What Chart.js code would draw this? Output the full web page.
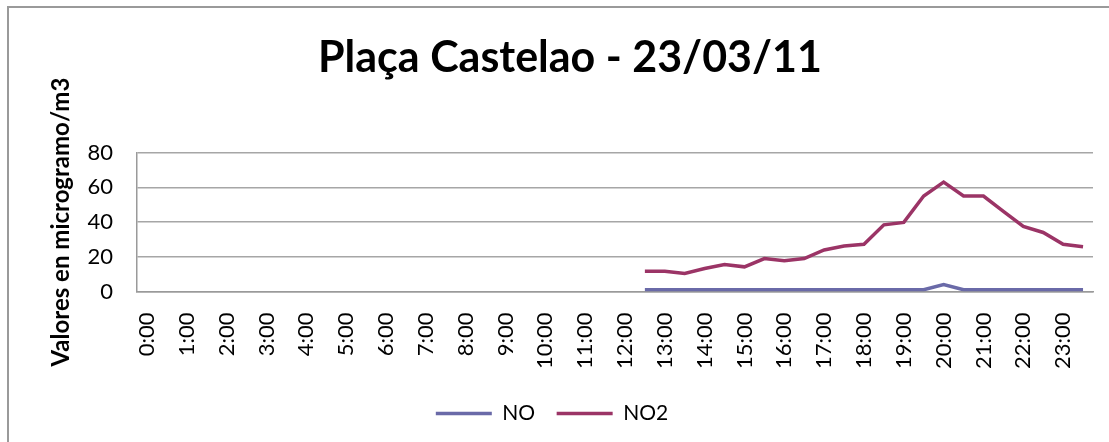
<!DOCTYPE html>
<html lang="es">
<head>
    <meta charset="UTF-8">
    <title>Plaça Castelao - 23/03/11</title>
    <style>
        body {
            margin: 0;
            background: #fff;
        }
        .wrap {
            position: relative;
            width: 1109px;
            height: 442px;
        }
        .frame {
            position: absolute;
            left: 7px;
            top: 6px;
            right: 0;
            bottom: 0;
            border-left: 2px solid #9a9a9a;
            border-top: 2px solid #9a9a9a;
            pointer-events: none;
        }
    </style>
</head>
<body>
    <div class="wrap">
        <canvas id="chart" width="1109" height="442"></canvas>
        <div class="frame"></div>
    </div>

    <script src="https://cdn.jsdelivr.net/npm/chart.js"></script>
    <script>
        // half-hour slots, only the full hours get a label
        const hours = [
            '0:00', '0:30', '1:00', '1:30', '2:00', '2:30', '3:00', '3:30',
            '4:00', '4:30', '5:00', '5:30', '6:00', '6:30', '7:00', '7:30',
            '8:00', '8:30', '9:00', '9:30', '10:00', '10:30', '11:00', '11:30',
            '12:00', '12:30', '13:00', '13:30', '14:00', '14:30', '15:00', '15:30',
            '16:00', '16:30', '17:00', '17:30', '18:00', '18:30', '19:00', '19:30',
            '20:00', '20:30', '21:00', '21:30', '22:00', '22:30', '23:00', '23:30'
        ];
        const noValues = [
            null, null, null, null, null, null, null, null,
            null, null, null, null, null, null, null, null,
            null, null, null, null, null, null, null, null,
            null, 1, 1, 1, 1, 1, 1, 1,
            1, 1, 1, 1, 1, 1, 1, 1,
            4, 1, 1, 1, 1, 1, 1, 1
        ];
        const no2Values = [
            null, null, null, null, null, null, null, null,
            null, null, null, null, null, null, null, null,
            null, null, null, null, null, null, null, null,
            null, 11.7, 11.7, 10.4, 13.2, 15.5, 14.2, 19,
            17.7, 19, 23.9, 26.2, 27.2, 38.4, 39.8, 55,
            63, 55, 55, 46.2, 37.5, 34, 27.2, 25.8
        ];
        const yTicks = [0, 20, 40, 60, 80];

        const font = 'Lato, "Noto Sans", sans-serif';
        Chart.defaults.font.family = font;
        Chart.defaults.color = '#000';

        // Excel centres the legend a bit left of the chart centre
        const legendShift = {
            id: 'legendShift',
            afterLayout(chart) {
                const lg = chart.legend;
                lg.left -= 18;
                lg.right -= 18;
                lg.top -= 8;
                lg.bottom -= 8;
            }
        };

        new Chart(document.getElementById('chart').getContext('2d'), {
            type: 'line',
            data: {
                labels: hours,
                datasets: [{
                    label: 'NO',
                    data: noValues,
                    borderColor: '#6a6aa8',
                    backgroundColor: '#6a6aa8',
                    borderWidth: 3.5,
                    pointRadius: 0,
                    tension: 0
                }, {
                    label: 'NO2',
                    data: no2Values,
                    borderColor: '#9b3466',
                    backgroundColor: '#9b3466',
                    borderWidth: 3.5,
                    pointRadius: 0,
                    tension: 0
                }]
            },
            options: {
                responsive: false,
                animation: false,
                layout: { padding: { left: 47, right: 16, top: 0, bottom: 0 } },
                scales: {
                    x: {
                        offset: true,
                        grid: { display: false, drawTicks: false },
                        border: { color: '#9a9a9a', width: 1.5 },
                        ticks: {
                            autoSkip: false,
                            minRotation: 90,
                            maxRotation: 90,
                            padding: 21,
                            font: { size: 22 },
                            callback: (v, i) => (i % 2 === 0 ? hours[i] : '')
                        },
                        afterFit: (s) => {
                            s.height = 98;
                            s.paddingLeft = 0;
                            s.paddingRight = 0;
                        }
                    },
                    y: {
                        min: 0,
                        max: 80,
                        afterBuildTicks: (s) => { s.ticks = yTicks.map(v => ({ value: v })); },
                        grid: { color: '#a6a6a6', lineWidth: 1.5, drawTicks: false },
                        border: { color: '#9a9a9a', width: 1.5 },
                        ticks: { padding: 24, font: { size: 22 } },
                        title: {
                            display: true,
                            text: 'Valores en microgramo/m3',
                            font: { size: 24, weight: 'bold' },
                            padding: { top: 0, bottom: 10 }
                        },
                        afterFit: (s) => { s.width = 90; }
                    }
                },
                plugins: {
                    title: {
                        display: true,
                        text: 'Plaça Castelao - 23/03/11',
                        font: { size: 43, weight: 'bold' },
                        padding: { top: 32, bottom: 69 }
                    },
                    legend: {
                        position: 'bottom',
                        labels: {
                            usePointStyle: true,
                            pointStyleWidth: 56,
                            pointStyle: 'line',
                            padding: 21.5,
                            font: { size: 21 }
                        }
                    },
                    tooltip: { enabled: false }
                }
            },
            plugins: [legendShift]
        });
    </script>
</body>
</html>
